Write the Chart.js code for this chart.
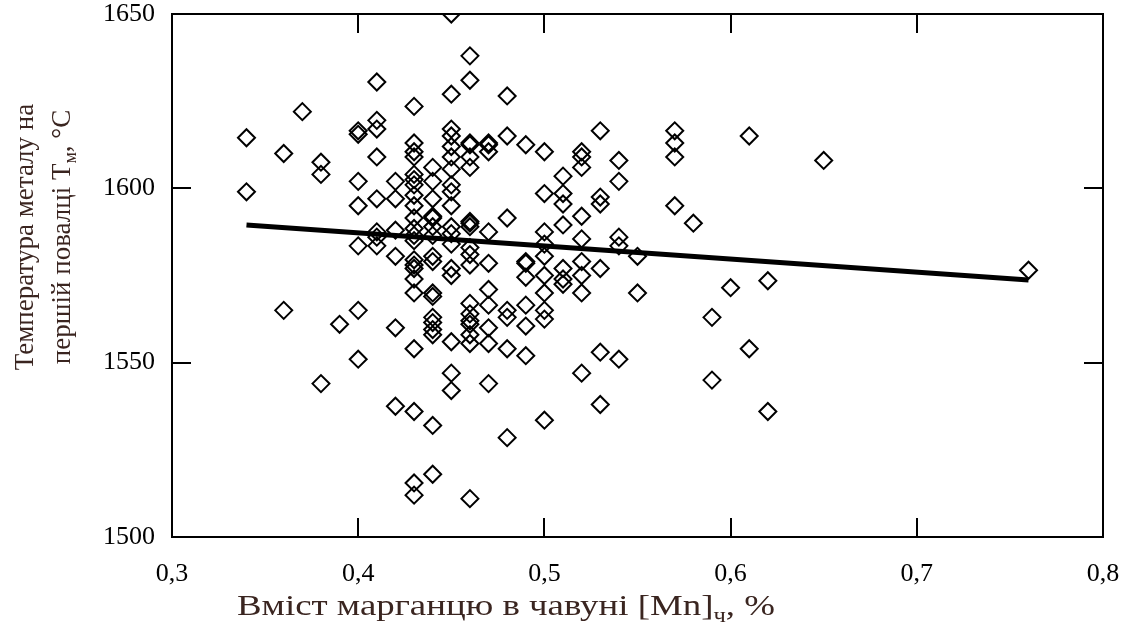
<!DOCTYPE html>
<html>
<head>
<meta charset="utf-8">
<script src="https://cdn.jsdelivr.net/npm/chart.js@4.4.1/dist/chart.umd.min.js"></script>
<style>
  html, body { margin: 0; padding: 0; background: #fff; }
  #wrap { width: 1132px; height: 623px; }
</style>
</head>
<body>
<div id="wrap"><canvas id="chart" width="1132" height="623"></canvas></div>
<script>
/* вміст Mn у чавуні (x) і температура металу на першій повалці (y) */
var mnLevels = [0.34, 0.36, 0.37, 0.38, 0.39, 0.40, 0.41, 0.42, 0.43, 0.44, 0.45, 0.46, 0.47, 0.48,
  0.49, 0.50, 0.51, 0.52, 0.53, 0.54, 0.55, 0.57, 0.58, 0.59, 0.60, 0.61, 0.62, 0.65, 0.76];
var tempByLevel = [
  [1614.5, 1599],
  [1610, 1565],
  [1622],
  [1607.5, 1604, 1544],
  [1561],
  [1616.5, 1615.5, 1602, 1595, 1583.5, 1565, 1551],
  [1630.5, 1619.5, 1617, 1609, 1597, 1587.5, 1586, 1583.5],
  [1602, 1597, 1588, 1580.5, 1560, 1537.5],
  [1623.5, 1613, 1610.5, 1609, 1604, 1602.5, 1601, 1598, 1595, 1591.5, 1588.5, 1586.5, 1585, 1579.5, 1578, 1577, 1574, 1570, 1554, 1536, 1515.5, 1512],
  [1606, 1602, 1597, 1592, 1591.5, 1589, 1586.5, 1580.5, 1579, 1570, 1569, 1563, 1561.5, 1559.5, 1558, 1532, 1518],
  [1650, 1627, 1617, 1615, 1612, 1609, 1605.5, 1601, 1599, 1595, 1589, 1587, 1584, 1577, 1575, 1556, 1547, 1542],
  [1638, 1631, 1613, 1612.5, 1609, 1606, 1590.5, 1590, 1589, 1583, 1581, 1578, 1567, 1564, 1562, 1561, 1558, 1555.5, 1511],
  [1613, 1612.5, 1610.5, 1587.5, 1578.5, 1571, 1566.5, 1560, 1555.5, 1544],
  [1626.5, 1615, 1591.5, 1565, 1563, 1554, 1528.5],
  [1612.5, 1579, 1578.5, 1574.5, 1566.5, 1560.5, 1552],
  [1610.5, 1598.5, 1587.5, 1584, 1580.5, 1575, 1570, 1565, 1562.5, 1533.5],
  [1603.5, 1598.5, 1595.5, 1589.5, 1577, 1574, 1572.5],
  [1610.5, 1609, 1606, 1592, 1585.5, 1579, 1575, 1570, 1547],
  [1616.5, 1597.5, 1595.5, 1577, 1553, 1538],
  [1608, 1602, 1586, 1583.5, 1551],
  [1580.5, 1570],
  [1616.5, 1613, 1609, 1595],
  [1590],
  [1563, 1545],
  [1571.5],
  [1615, 1554],
  [1573.5, 1536],
  [1608],
  [1576.5]
];
// лінія тренду (кінцеві точки)
var trendMn = [0.34, 0.76];
var trendTemp = [1589.5, 1573.7];

var xTicks = [0.3, 0.4, 0.5, 0.6, 0.7, 0.8];
var yTicks = [1500, 1550, 1600, 1650];

/* ---------- helpers ---------- */
var FONT = "'Liberation Serif', 'Times New Roman', serif";
var TITLE_COLOR = '#3a2520';

function points() {
  var out = [];
  mnLevels.forEach(function (x, i) {
    tempByLevel[i].forEach(function (t) { out.push({ x: x, y: t }); });
  });
  return out;
}
function trendPoints() {
  return trendMn.map(function (x, i) { return { x: x, y: trendTemp[i] }; });
}

// текст з нижнім індексом: parts = [[text, isSub], ...]; fitW — бажана ширина рядка (необов'язково)
function drawRich(ctx, parts, cx, cy, size, fitW) {
  var subSize = Math.round(size * 0.68);
  var w = 0;
  parts.forEach(function (p) {
    ctx.font = (p[1] ? subSize : size) + 'px ' + FONT;
    w += ctx.measureText(p[0]).width;
  });
  var sx = fitW ? fitW / w : 1;
  ctx.save();
  ctx.translate(cx - w * sx / 2, cy);
  ctx.scale(sx, 1);
  ctx.textBaseline = 'alphabetic';
  ctx.textAlign = 'left';
  var x = 0;
  parts.forEach(function (p) {
    ctx.font = (p[1] ? subSize : size) + 'px ' + FONT;
    ctx.fillText(p[0], x, p[1] ? size * 0.22 : 0);
    x += ctx.measureText(p[0]).width;
  });
  ctx.restore();
}

/* ---------- рамка, внутрішні засічки, підписи осей ---------- */
var framePlugin = {
  id: 'frame',
  afterDraw: function (chart) {
    var ctx = chart.ctx, a = chart.chartArea;
    var xs = chart.scales.x, ys = chart.scales.y;
    var TL = 19;
    ctx.save();
    ctx.strokeStyle = '#000';
    ctx.lineWidth = 2;
    ctx.strokeRect(a.left, a.top, a.right - a.left, a.bottom - a.top);
    ctx.beginPath();
    xTicks.forEach(function (v) {
      var px = Math.round(xs.getPixelForValue(v));
      ctx.moveTo(px, a.bottom); ctx.lineTo(px, a.bottom - TL);
      ctx.moveTo(px, a.top); ctx.lineTo(px, a.top + TL);
    });
    yTicks.forEach(function (v) {
      var py = Math.round(ys.getPixelForValue(v));
      ctx.moveTo(a.left, py); ctx.lineTo(a.left + TL, py);
      ctx.moveTo(a.right, py); ctx.lineTo(a.right - TL, py);
    });
    ctx.stroke();

    // підпис осі X
    ctx.fillStyle = TITLE_COLOR;
    drawRich(ctx, [['Вміст марганцю в чавуні [Mn]', false], ['ч', true], [', %', false]], 506, 615, 30, 538);

    // підпис осі Y (два рядки, повернуто)
    ctx.translate(0, 237);
    ctx.rotate(-Math.PI / 2);
    drawRich(ctx, [['Температура металу на', false]], 0, 33, 27);
    drawRich(ctx, [['першій повалці Т', false], ['м', true], [', °С', false]], 0, 70, 27);
    ctx.restore();
  }
};

/* ---------- chart ---------- */
new Chart(document.getElementById('chart').getContext('2d'), {
  type: 'scatter',
  data: {
    datasets: [
      {
        label: 'T',
        data: points(),
        pointStyle: 'rectRot',
        pointRadius: 8.5,
        pointHoverRadius: 8.5,
        pointBackgroundColor: 'rgba(0,0,0,0)',
        pointBorderColor: '#000',
        pointBorderWidth: 2,
        order: 2
      },
      {
        label: 'trend',
        type: 'line',
        data: trendPoints(),
        borderColor: '#000',
        borderWidth: 5,
        pointRadius: 0,
        fill: false,
        order: 1
      }
    ]
  },
  options: {
    responsive: false,
    animation: false,
    layout: { padding: { left: 72, top: 14, right: 29, bottom: 0 } },
    plugins: { legend: { display: false }, tooltip: { enabled: false } },
    scales: {
      x: {
        type: 'linear', min: 0.3, max: 0.8,
        afterBuildTicks: function (s) { s.ticks = xTicks.map(function (v) { return { value: v }; }); },
        afterFit: function (s) { s.height = 86; s.paddingLeft = 0; s.paddingRight = 0; },
        grid: { display: false, drawTicks: false },
        border: { display: false },
        ticks: {
          padding: 22, color: '#000',
          font: { family: FONT, size: 26 },
          callback: function (v) { return v.toFixed(1).replace('.', ','); }
        }
      },
      y: {
        type: 'linear', min: 1500, max: 1650,
        afterBuildTicks: function (s) { s.ticks = yTicks.map(function (v) { return { value: v }; }); },
        afterFit: function (s) { s.width = 100; s.paddingTop = 0; s.paddingBottom = 0; },
        grid: { display: false, drawTicks: false },
        border: { display: false },
        ticks: {
          padding: 17, color: '#000',
          font: { family: FONT, size: 26 },
          callback: function (v) { return String(v); }
        }
      }
    }
  },
  plugins: [framePlugin]
});
</script>
</body>
</html>
